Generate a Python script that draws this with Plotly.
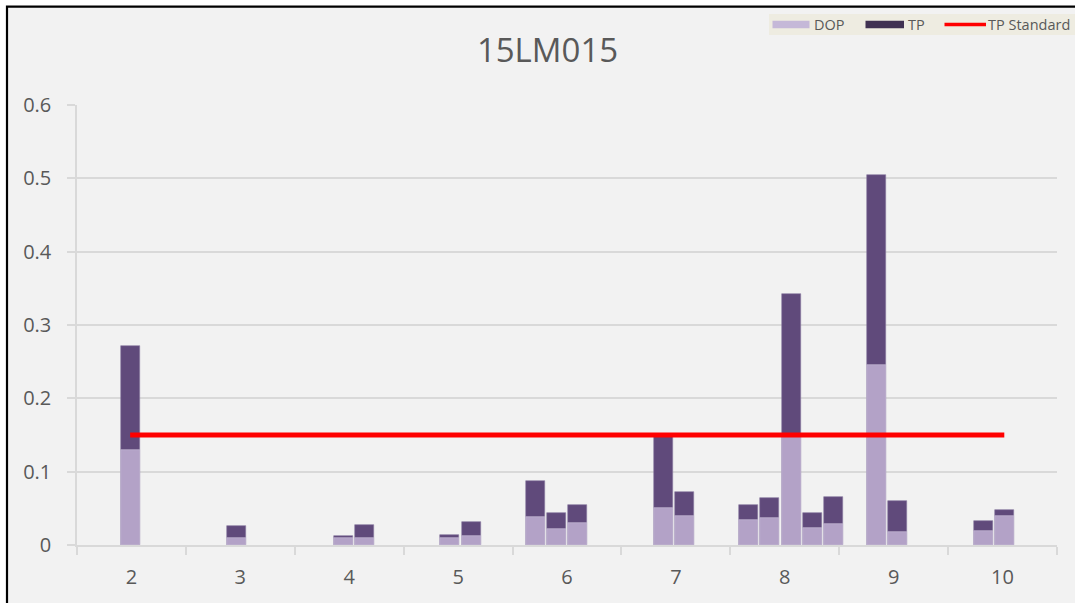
import plotly.graph_objects as go

# ---- data ----
title_text = "15LM015"
month_labels = ["2", "3", "4", "5", "6", "7", "8", "9", "10"]
month_values = [2, 3, 4, 5, 6, 7, 8, 9, 10]
# sampling position of each bar (fractional month on the axis)
sample_x = [1.988, 2.964, 3.947, 4.140, 4.925, 5.122, 5.710, 5.903, 6.100,
            6.883, 7.080, 7.668, 7.861, 8.059, 8.253, 8.449, 8.839, 9.037,
            9.821, 10.016]
tp = [0.271, 0.0254, 0.0127, 0.0274, 0.0137, 0.0319, 0.087, 0.0438, 0.0547,
      0.148, 0.072, 0.0543, 0.0647, 0.342, 0.0434, 0.0657, 0.504, 0.0606,
      0.0332, 0.0479]
dop = [0.129, 0.0096, 0.009, 0.010, 0.009, 0.0127, 0.0378, 0.022, 0.0295,
       0.050, 0.0397, 0.0338, 0.0369, 0.149, 0.0229, 0.0287, 0.245, 0.0178,
       0.019, 0.040]
tp_standard_value = 0.15
tp_standard = [tp_standard_value for _ in sample_x]
y_ticks = [0, 0.1, 0.2, 0.3, 0.4, 0.5, 0.6]
legend_names = ["DOP", "TP", "TP Standard"]

# ---- styling ----
C_DOP = "#b3a2c7"
C_TP = "#604a7b"
C_DOP_LEG = "#c5b8d8"
C_TP_LEG = "#403152"
C_RED = "#ff0000"
C_TEXT = "#595959"
C_GRID = "#d9d9d9"
FONT = "Open Sans"

bar_w = 0.175
boundaries = [m - 0.5 for m in month_values] + [month_values[-1] + 0.5]
x_range = [boundaries[0], boundaries[-1]]

fig = go.Figure()

fig.add_trace(go.Bar(x=sample_x, y=tp, width=bar_w, name=legend_names[1],
                     marker=dict(color=C_TP, line=dict(width=0.6, color="#8a7aa0")),
                     showlegend=False))
fig.add_trace(go.Bar(x=sample_x, y=dop, width=bar_w, name=legend_names[0],
                     marker=dict(color=C_DOP, line=dict(width=0.6, color="#cfc3dc")),
                     showlegend=False))
fig.add_trace(go.Scatter(x=sample_x, y=tp_standard, mode="lines",
                         name=legend_names[2], xaxis="x2", showlegend=False,
                         line=dict(color=C_RED, width=5)))

L, R, T, B = 77, 18, 105, 58
W, H = 1075, 603
pw = W - L - R
ph = H - T - B

def px_x(px):
    return (px - L) / pw

def px_y(py):
    return (H - B - py) / ph

shapes = [dict(type="rect", xref="paper", yref="paper",
               x0=px_x(7), x1=px_x(W + 20), y0=px_y(H + 20), y1=px_y(6.7),
               line=dict(color="black", width=2.2), fillcolor="#f2f2f2",
               layer="below")]

# legend box (extends past the right edge as in the original)
shapes.append(dict(type="rect", xref="paper", yref="paper",
                   x0=px_x(769), x1=px_x(W + 40), y0=px_y(35), y1=px_y(14),
                   line=dict(width=0), fillcolor="#eeece1", layer="above"))
leg_y = 24.5
shapes.append(dict(type="rect", xref="paper", yref="paper",
                   x0=px_x(772.5), x1=px_x(809.5), y0=px_y(leg_y + 3.8), y1=px_y(leg_y - 3.8),
                   line=dict(width=0), fillcolor=C_DOP_LEG, layer="above"))
shapes.append(dict(type="rect", xref="paper", yref="paper",
                   x0=px_x(865.5), x1=px_x(904), y0=px_y(leg_y + 3.8), y1=px_y(leg_y - 3.8),
                   line=dict(width=0), fillcolor=C_TP_LEG, layer="above"))
shapes.append(dict(type="line", xref="paper", yref="paper",
                   x0=px_x(944.5), x1=px_x(986), y0=px_y(leg_y), y1=px_y(leg_y),
                   line=dict(color=C_RED, width=3.3), layer="above"))

legend_text_x = [813, 907, 987]
annotations = [dict(text=name, xref="paper", yref="paper",
                    x=px_x(tx), y=px_y(leg_y), xanchor="left", yanchor="middle",
                    showarrow=False, borderpad=0,
                    font=dict(size=14.5, color=C_TEXT, family=FONT))
               for name, tx in zip(legend_names, legend_text_x)]

fig.update_layout(
    width=W, height=H,
    margin=dict(l=L, r=R, t=T, b=B),
    paper_bgcolor="white",
    plot_bgcolor="#f2f2f2",
    barmode="overlay",
    bargap=0,
    showlegend=False,
    font=dict(family=FONT, color=C_TEXT),
    title=dict(text=title_text, x=547.5 / W, xanchor="center", xref="container",
               y=1 - 50 / H, yanchor="middle", yref="container",
               font=dict(size=33, color=C_TEXT, family=FONT)),
    xaxis=dict(range=x_range, tickvals=boundaries, ticktext=[""] * len(boundaries),
               showticklabels=False, ticks="outside", ticklen=8, tickwidth=1.5,
               tickcolor=C_GRID, showline=True, linecolor=C_GRID, linewidth=2,
               showgrid=False, zeroline=False),
    xaxis2=dict(range=x_range, overlaying="x", side="bottom",
                tickvals=month_values, ticktext=month_labels, ticks="",
                showline=False, showgrid=False, zeroline=False,
                tickfont=dict(size=20, color=C_TEXT, family=FONT),
                ticklabelstandoff=18),
    yaxis=dict(range=[0, 0.6], tickvals=y_ticks,
               ticktext=[("%g" % v) for v in y_ticks],
               showgrid=True, gridcolor=C_GRID, gridwidth=1.5,
               ticks="outside", ticklen=8, tickwidth=1.5, tickcolor=C_GRID,
               showline=True, linecolor=C_GRID, linewidth=1.5,
               zeroline=False, tickfont=dict(size=20, color=C_TEXT, family=FONT),
               ticklabelstandoff=12),
    shapes=shapes,
    annotations=annotations,
)

fig.write_html("out.html", config={"displayModeBar": False},
               post_script="document.body.style.margin='0px';document.body.style.padding='0px';")
